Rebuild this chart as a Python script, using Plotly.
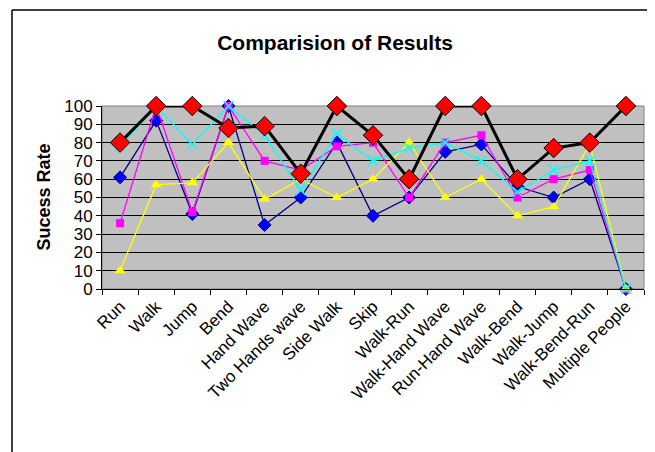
import plotly.graph_objects as go

categories = ["Run", "Walk", "Jump", "Bend", "Hand Wave", "Two Hands wave", "Side Walk",
              "Skip", "Walk-Run", "Walk-Hand Wave", "Run-Hand Wave", "Walk-Bend",
              "Walk-Jump", "Walk-Bend-Run", "Multiple People"]

series_blue = [61, 92, 41, 100, 35, 50, 80, 40, 50, 75, 79, 56, 50, 60, 0]
series_magenta = [36, 100, 42, 100, 70, 65, 78, 80, 50, 80, 84, 50, 60, 65, 0]
series_yellow = [10, 57, 58, 80, 49, 60, 50, 60, 80, 50, 60, 40, 45, 79, 0]
series_cyan = [78, 100, 79, 100, 84, 54, 85, 70, 77, 80, 70, 53, 65, 70, 0]
series_best = [80, 100, 100, 88, 89, 63, 100, 84, 60, 100, 100, 60, 77, 80, 100]

y_ticks = list(range(0, 101, 10))

FONT = "Liberation Sans, Arial, sans-serif"

# the page body has an 8px margin, so the figure is 8px smaller each way
W, H = 647, 444
ML, MR, MT, MB = 94, 11, 98, 163
PW = W - ML - MR
PH = H - MT - MB

fig = go.Figure()

fig.add_trace(go.Scatter(x=categories, y=series_blue, mode="lines+markers",
                         line=dict(color="#000080", width=1.3),
                         marker=dict(symbol="diamond", size=10, color="#0000FF",
                                     line=dict(color="#000080", width=1)),
                         cliponaxis=False, showlegend=False))
fig.add_trace(go.Scatter(x=categories, y=series_magenta, mode="lines+markers",
                         line=dict(color="#FF00FF", width=1.3),
                         marker=dict(symbol="square", size=8, color="#FF00FF"),
                         cliponaxis=False, showlegend=False))
fig.add_trace(go.Scatter(x=categories, y=series_yellow, mode="lines+markers",
                         line=dict(color="#FFFF00", width=1.3),
                         marker=dict(symbol="triangle-up", size=10, color="#FFFF00"),
                         cliponaxis=False, showlegend=False))
fig.add_trace(go.Scatter(x=categories, y=series_cyan, mode="lines+markers",
                         line=dict(color="#00FFFF", width=1.3),
                         marker=dict(symbol="x-thin-open", size=10, color="#00FFFF",
                                     line=dict(color="#00FFFF", width=1.5)),
                         cliponaxis=False, showlegend=False))
fig.add_trace(go.Scatter(x=categories, y=series_best, mode="lines+markers",
                         line=dict(color="#000000", width=3),
                         marker=dict(symbol="diamond", size=15, color="#FF0000",
                                     line=dict(color="#000000", width=1)),
                         cliponaxis=False, showlegend=False))

bx = (4 - ML) / PW          # border left, paper units
by = (MT + PH - 2) / PH     # border top, paper units

fig.update_layout(
    width=W, height=H,
    margin=dict(l=ML, r=MR, t=MT, b=MB),
    paper_bgcolor="white",
    plot_bgcolor="#C0C0C0",
    font=dict(family=FONT, color="black", size=16),
    title=dict(text="<b>Comparision of Results</b>", font=dict(size=21, family=FONT),
               x=(327 - ML) / PW, xref="paper", xanchor="center",
               y=1 - 35 / H, yref="container", yanchor="middle"),
    xaxis=dict(type="category", range=[-0.5, 14.5], tickangle=-45,
               ticks="outside", ticklen=5, tickcolor="black", tickson="boundaries",
               showgrid=False, showline=True, linecolor="black", linewidth=1,
               tickfont=dict(size=17, family=FONT), mirror=False),
    yaxis=dict(range=[0, 100], tickvals=y_ticks, ticks="outside", ticklen=5,
               tickcolor="black", showgrid=True, gridcolor="black", gridwidth=1,
               showline=True, linecolor="black", linewidth=1, zeroline=False,
               tickfont=dict(size=17, family=FONT)),
    shapes=[
        dict(type="rect", xref="paper", yref="paper", x0=0, x1=1, y0=0, y1=1,
             line=dict(color="#808080", width=1), layer="below"),
        dict(type="line", xref="paper", yref="paper", x0=bx, x1=1.2,
             y0=by, y1=by, line=dict(color="black", width=1.5)),
        dict(type="line", xref="paper", yref="paper", x0=bx, x1=bx,
             y0=by, y1=-1.2, line=dict(color="black", width=1.5)),
    ],
    annotations=[
        dict(text="<b>Sucess Rate</b>", textangle=-90, xref="paper", yref="paper",
             x=(35 - ML) / PW, y=0.5, xanchor="center", yanchor="middle",
             showarrow=False, font=dict(size=18, family=FONT)),
    ],
)

fig.write_html("out.html")
